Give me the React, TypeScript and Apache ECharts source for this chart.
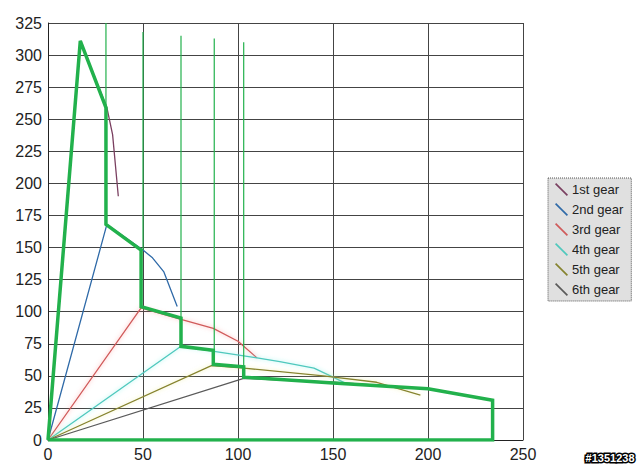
import React, { useEffect, useRef } from 'react';
import * as echarts from 'echarts';

// speed (km/h) vs tractive force, one curve per gear
const gearNames = ['1st gear', '2nd gear', '3rd gear', '4th gear', '5th gear', '6th gear'];
const gearColors = ['#7a3f60', '#2f6aa8', '#d05a5a', '#4fc8bd', '#86832e', '#5a5a5a'];
const gearGlow = ['', '', 'rgba(255,120,120,0.6)', 'rgba(120,240,230,0.7)', 'rgba(230,230,120,0.6)', ''];

const gear1 = [[0, 0], [17, 311], [31, 259], [34, 238], [37, 190]];
const gear2 = [[0, 0], [31, 168], [50, 148], [55, 142], [61, 131], [68, 104]];
const gear3 = [[0, 0], [49, 103], [70, 94], [87, 87], [100, 77], [110, 64]];
const gear4 = [[0, 0], [70, 73], [110, 64], [122, 61], [140, 56], [150, 49], [157, 44]];
const gear5 = [[0, 0], [86, 58], [103, 56], [145, 50], [173, 45], [196, 35]];
const gear6 = [[0, 0], [103, 48], [150, 45], [200, 40], [234, 31]];
const gears = [gear1, gear2, gear3, gear4, gear5, gear6];

// green envelope drawn over the gears
const envelope = [
  [0, 0], [17, 311], [30.5, 259], [30.5, 168], [49, 148], [49, 104], [70, 95], [70, 73],
  [87, 70], [87, 59], [103, 57], [103, 49], [150, 44.5], [200, 40], [234, 31], [234, 0], [0, 0]
];

// thin shift lines
const shiftLines = [
  [[30.5, 259], [30.5, 325]],
  [[50, 148], [50, 318]],
  [[70, 95], [70, 315]],
  [[87.5, 70], [87.5, 313]],
  [[103, 57], [103, 310]]
];

const App: React.FC = () => {
  const chartRef = useRef<HTMLDivElement>(null);

  useEffect(() => {
    if (!chartRef.current) return;
    const chart = echarts.init(chartRef.current, undefined, { renderer: 'svg' });

    const gearSeries = gears.map((data, i) => ({
      name: gearNames[i],
      type: 'line',
      data,
      symbol: 'none',
      z: 2,
      itemStyle: { color: gearColors[i] },
      lineStyle: {
        color: gearColors[i],
        width: 1.3,
        shadowColor: gearGlow[i] || 'transparent',
        shadowBlur: gearGlow[i] ? 4 : 0
      }
    }));

    const shiftSeries = shiftLines.map((data) => ({
      type: 'line',
      data,
      symbol: 'none',
      z: 3,
      silent: true,
      lineStyle: { color: '#22b14c', width: 1.2 }
    }));

    const option: any = {
      animation: false,
      backgroundColor: '#ffffff',
      textStyle: { fontFamily: 'Liberation Sans, Arial, sans-serif' },
      grid: { left: 48, right: 117, top: 23, bottom: 29 },
      xAxis: {
        type: 'value',
        min: 0,
        max: 250,
        interval: 50,
        axisLine: { show: true, lineStyle: { color: '#222', width: 1 } },
        axisTick: { show: false },
        axisLabel: { color: '#222', fontSize: 16, margin: 6 },
        splitLine: { show: true, lineStyle: { color: '#444', width: 1 } }
      },
      yAxis: {
        type: 'value',
        min: 0,
        max: 325,
        interval: 25,
        axisLine: { show: true, lineStyle: { color: '#222', width: 1 } },
        axisTick: { show: false },
        axisLabel: { color: '#222', fontSize: 16, margin: 6 },
        splitLine: { show: true, lineStyle: { color: '#444', width: 1 } }
      },
      legend: {
        data: gearNames,
        orient: 'vertical',
        left: 548,
        top: 178,
        width: 89,
        padding: [5, 8, 5, 7],
        itemWidth: 13,
        itemHeight: 13,
        itemGap: 7,
        backgroundColor: '#e0e0e0',
        borderColor: '#555',
        borderWidth: 1,
        borderType: 'dotted',
        icon: 'path://M0,0.9 L0.9,0 L10,9.1 L9.1,10 Z',
        textStyle: { color: '#222', fontSize: 13, padding: [0, 0, 0, -1] }
      },
      graphic: [
        {
          type: 'text',
          right: 4,
          bottom: 4,
          style: {
            text: '#1351238',
            fill: '#ffffff',
            stroke: '#000000',
            lineWidth: 3,
            font: 'bold 11px Liberation Sans, Arial, sans-serif'
          }
        }
      ],
      series: [
        ...gearSeries,
        ...shiftSeries,
        {
          type: 'line',
          data: envelope,
          symbol: 'none',
          z: 4,
          silent: true,
          lineStyle: { color: '#22b14c', width: 3.5, join: 'miter' }
        }
      ]
    };

    chart.setOption(option);
    return () => {
      chart.dispose();
    };
  }, []);

  return (
    <div
      ref={chartRef}
      style={{ position: 'absolute', left: 0, top: 0, width: 640, height: 469 }}
    />
  );
};

export default App;
